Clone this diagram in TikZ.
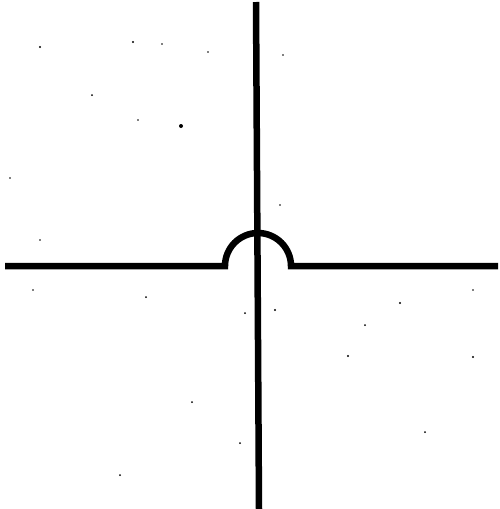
\documentclass[tikz,border=0pt]{standalone}
\begin{document}
\begin{tikzpicture}[x=1pt,y=-1pt,
  wire/.style={line width=6.5pt,black},
  speck/.style={fill=black}]
\useasboundingbox (0,0) rectangle (500,509);
% vertical wire
\coordinate (vt) at (256,2);
\coordinate (vb) at (259,509);
\draw[wire] (vt) -- (vb);
% horizontal wire with hop
\coordinate (hl) at (5,266);
\coordinate (hr) at (498,266);
\draw[wire] (hl) -- (225,266) arc[start angle=180,end angle=360,radius=33] -- (hr);
% specks
\foreach \p/\r in {(40,47)/1.2,(133,42)/1.2,(162,44)/0.9,(208,52)/0.9,(92,95)/1,(181,126)/2,(138,120)/0.9,(10,178)/0.9,(40,240)/0.9,(33,290)/0.9,(146,297)/1,(245,313)/1,(275,310)/1.2,(365,325)/1,(400,303)/1.2,(473,290)/0.8,(348,356)/1.2,(473,357)/1.2,(192,402)/1,(240,443)/1,(120,475)/1,(425,432)/1,(283,55)/0.8,(280,205)/0.8}
  \fill[speck] \p circle (\r);
\end{tikzpicture}
\end{document}
